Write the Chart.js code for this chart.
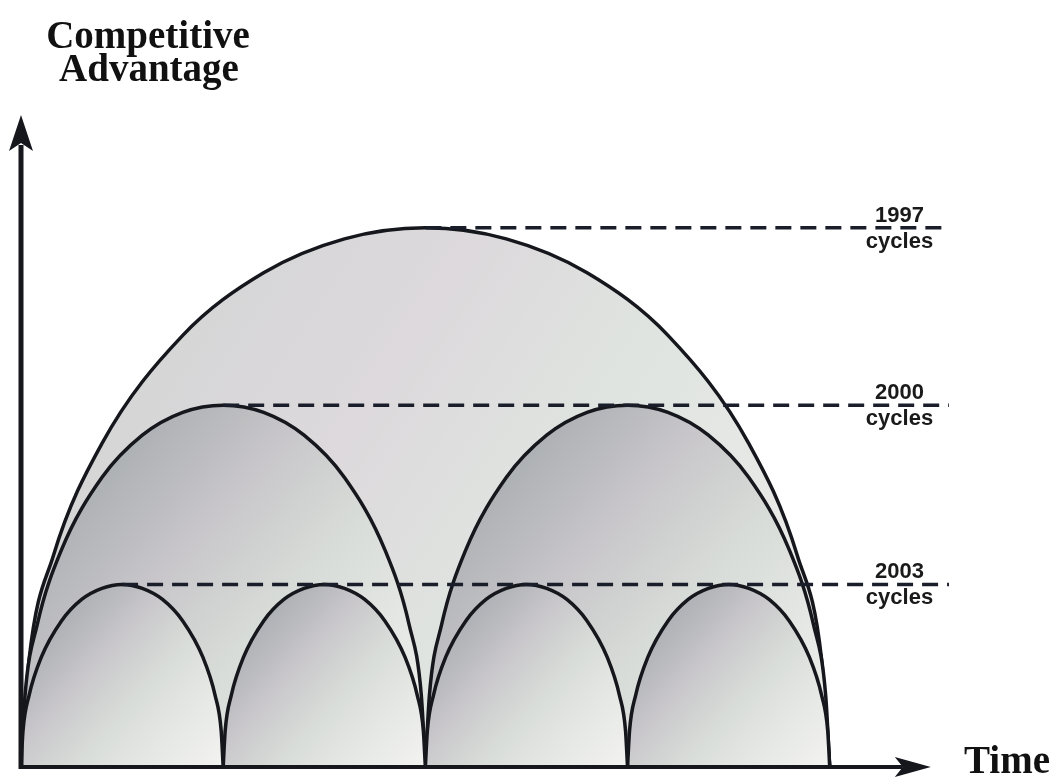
<!DOCTYPE html>
<html>
<head>
<meta charset="utf-8">
<script src="https://cdn.jsdelivr.net/npm/chart.js@4.4.1/dist/chart.umd.min.js"></script>
<style>
  html, body { margin: 0; padding: 0; background: #ffffff; }
  #wrap { position: relative; width: 1059px; height: 777px; }
</style>
</head>
<body>
<div id="wrap"><canvas id="cycleChart"></canvas></div>
<script>
// サイクルの弧（時間, 競争優位）
const arch1997 = [[0, 0], [0.08, 1.65], [0.32, 3.24], [0.8, 4.96], [1.6, 6.62], [2.4, 7.58], [3.2, 8.1], [4, 8.27],
  [4.8, 8.1], [5.6, 7.58], [6.4, 6.62], [7.2, 4.96], [7.68, 3.24], [7.92, 1.65], [8, 0]];

const arch2000a = [[0, 0], [0.04, 1.1], [0.16, 2.18], [0.4, 3.33], [0.8, 4.44], [1.2, 5.09], [1.6, 5.44], [2, 5.55],
  [2.4, 5.44], [2.8, 5.09], [3.2, 4.44], [3.6, 3.33], [3.84, 2.18], [3.96, 1.1], [4, 0]];
const arch2000b = [[4, 0], [4.04, 1.1], [4.16, 2.18], [4.4, 3.33], [4.8, 4.44], [5.2, 5.09], [5.6, 5.44], [6, 5.55],
  [6.4, 5.44], [6.8, 5.09], [7.2, 4.44], [7.6, 3.33], [7.84, 2.18], [7.96, 1.1], [8, 0]];

const arch2003a = [[0, 0], [0.02, 0.56], [0.08, 1.1], [0.2, 1.68], [0.4, 2.24], [0.6, 2.57], [0.8, 2.74], [1, 2.8],
  [1.2, 2.74], [1.4, 2.57], [1.6, 2.24], [1.8, 1.68], [1.92, 1.1], [1.98, 0.56], [2, 0]];
const arch2003b = [[2, 0], [2.02, 0.56], [2.08, 1.1], [2.2, 1.68], [2.4, 2.24], [2.6, 2.57], [2.8, 2.74], [3, 2.8],
  [3.2, 2.74], [3.4, 2.57], [3.6, 2.24], [3.8, 1.68], [3.92, 1.1], [3.98, 0.56], [4, 0]];
const arch2003c = [[4, 0], [4.02, 0.56], [4.08, 1.1], [4.2, 1.68], [4.4, 2.24], [4.6, 2.57], [4.8, 2.74], [5, 2.8],
  [5.2, 2.74], [5.4, 2.57], [5.6, 2.24], [5.8, 1.68], [5.92, 1.1], [5.98, 0.56], [6, 0]];
const arch2003d = [[6, 0], [6.02, 0.56], [6.08, 1.1], [6.2, 1.68], [6.4, 2.24], [6.6, 2.57], [6.8, 2.74], [7, 2.8],
  [7.2, 2.74], [7.4, 2.57], [7.6, 2.24], [7.8, 1.68], [7.92, 1.1], [7.98, 0.56], [8, 0]];

// 破線（ピーク水準）とラベル
const cycleLabels = ["1997", "2000", "2003"];
const levelValues = [8.27, 5.55, 2.8];
const levelStarts = [4, 2, 1];
const levelEnd = 9.18;
const labelX = 8.69;

// 軸
const timeMax = 9.18;
const timeArrowEnd = 9.0;
const advantageMax = 10;
const yAxisTitle = ["Competitive", "Advantage"];
const xAxisTitle = "Time";

const lineColor = "#15171d";

// 弧の塗り（左上が暗く、右下が明るい）
function archFill(shades) {
  return function (context) {
    const chart = context.chart;
    if (!chart.chartArea) return null;
    const pts = chart.data.datasets[context.datasetIndex].data;
    const xs = pts.map((p) => p[0]);
    const ys = pts.map((p) => p[1]);
    const sx = chart.scales.x;
    const sy = chart.scales.y;
    const g = chart.ctx.createLinearGradient(
      sx.getPixelForValue(Math.min(...xs)), sy.getPixelForValue(Math.max(...ys)),
      sx.getPixelForValue(Math.max(...xs)), sy.getPixelForValue(0)
    );
    shades.forEach((c, i) => g.addColorStop(i / (shades.length - 1), c));
    return g;
  };
}

const bigShades = ["#cbcdcc", "#d6d6d7", "#ddd9dc", "#dfe4e0", "#e8e9e7", "#efefee"];
const midShades = ["#989ca0", "#aeb1b4", "#c8c6ca", "#d8dcd8", "#e5e8e4", "#f1f1ef"];
const smallShades = ["#95999d", "#aeb1b5", "#c9c7cb", "#d9ddd9", "#e7e9e6", "#f3f3f1"];

function archDataset(data, shades, order) {
  return {
    data: data,
    borderColor: lineColor,
    borderWidth: 3.5,
    pointRadius: 0,
    cubicInterpolationMode: "monotone",
    fill: "origin",
    backgroundColor: archFill(shades),
    order: order,
    clip: false,
  };
}

const datasets = [];

// 破線
levelValues.forEach((v, i) => {
  datasets.push({
    data: [[levelStarts[i], v], [levelEnd, v]],
    borderColor: "#1a1e2a",
    borderWidth: 3.5,
    borderDash: [16, 9],
    pointRadius: 0,
    fill: false,
    order: 0,
    clip: false,
  });
});

datasets.push(archDataset(arch2003a, smallShades, 1));
datasets.push(archDataset(arch2003b, smallShades, 1));
datasets.push(archDataset(arch2003c, smallShades, 1));
datasets.push(archDataset(arch2003d, smallShades, 1));
datasets.push(archDataset(arch2000a, midShades, 2));
datasets.push(archDataset(arch2000b, midShades, 2));
datasets.push(archDataset(arch1997, bigShades, 3));

// 軸の矢印とテキスト
const decorPlugin = {
  id: "decor",
  afterDatasetsDraw(chart) {
    const ctx = chart.ctx;
    const sx = chart.scales.x;
    const sy = chart.scales.y;
    const x0 = sx.getPixelForValue(0);
    const y0 = sy.getPixelForValue(0);
    const yTop = sy.getPixelForValue(advantageMax);
    const xTip = sx.getPixelForValue(timeArrowEnd);

    ctx.save();
    ctx.fillStyle = lineColor;
    ctx.strokeStyle = lineColor;

    // 縦軸
    ctx.lineWidth = 5;
    ctx.beginPath();
    ctx.moveTo(x0, y0 + 2);
    ctx.lineTo(x0, yTop + 30);
    ctx.stroke();
    ctx.beginPath();
    ctx.moveTo(x0, yTop);
    ctx.lineTo(x0 + 12, yTop + 36);
    ctx.lineTo(x0, yTop + 28);
    ctx.lineTo(x0 - 12, yTop + 36);
    ctx.closePath();
    ctx.fill();

    // 横軸
    ctx.lineWidth = 4;
    ctx.beginPath();
    ctx.moveTo(x0 - 2, y0);
    ctx.lineTo(xTip - 28, y0);
    ctx.stroke();
    ctx.beginPath();
    ctx.moveTo(xTip, y0);
    ctx.lineTo(xTip - 36, y0 - 10);
    ctx.lineTo(xTip - 28, y0);
    ctx.lineTo(xTip - 36, y0 + 10);
    ctx.closePath();
    ctx.fill();

    // 軸タイトル
    ctx.fillStyle = "#111111";
    ctx.font = "bold 39px 'Liberation Serif', 'Times New Roman', serif";
    ctx.textAlign = "center";
    ctx.textBaseline = "alphabetic";
    ctx.fillText(yAxisTitle[0], 148, 48);
    ctx.fillText(yAxisTitle[1], 149, 81);
    ctx.textAlign = "left";
    ctx.fillText(xAxisTitle, 964, 773);

    // サイクルラベル
    ctx.fillStyle = "#1a1a1a";
    ctx.font = "bold 22px 'Liberation Sans', Arial, sans-serif";
    ctx.textAlign = "center";
    const lx = sx.getPixelForValue(labelX);
    levelValues.forEach((v, i) => {
      const py = sy.getPixelForValue(v);
      ctx.fillText(cycleLabels[i], lx, py - 6);
      ctx.fillText("cycles", lx, py + 20);
    });
    ctx.restore();
  },
};

new Chart(document.getElementById("cycleChart"), {
  type: "line",
  data: { datasets: datasets },
  options: {
    responsive: true,
    maintainAspectRatio: false,
    animation: false,
    layout: { padding: { left: 21, right: 110, top: 115, bottom: 10 } },
    plugins: {
      legend: { display: false },
      tooltip: { enabled: false },
    },
    scales: {
      x: { type: "linear", min: 0, max: timeMax, display: false },
      y: { type: "linear", min: 0, max: advantageMax, display: false },
    },
  },
  plugins: [decorPlugin],
});
</script>
</body>
</html>
